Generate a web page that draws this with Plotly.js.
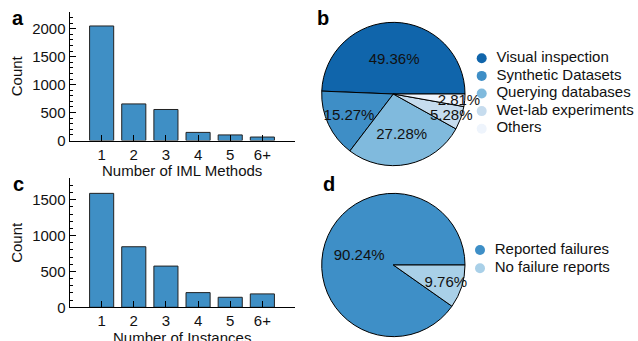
<!DOCTYPE html>
<html><head><meta charset="utf-8">
<script src="https://cdn.plot.ly/plotly-3.0.1.min.js"></script>
<style>html,body{margin:0;padding:0;background:#fff;overflow:hidden;}#chart{width:638px;height:341px;}</style>
</head><body><div id="chart"></div>
<script>
// ---- data ----
const catLabels = ['1', '2', '3', '4', '5', '6+'];
const imlMethodCounts = [2050, 655, 555, 145, 100, 62];
const instanceCounts = [1590, 845, 575, 205, 140, 187];
const validationLabels = ['Visual inspection', 'Synthetic Datasets', 'Querying databases', 'Wet-lab experiments', 'Others'];
const validationShares = [49.36, 15.27, 27.28, 5.28, 2.81];
const failureLabels = ['Reported failures', 'No failure reports'];
const failureShares = [90.24, 9.76];

// ---- styles ----
const validationColors = ['#1065ab', '#3e8ec6', '#80badd', '#c6dcee', '#eef4fc'];
const failureColors = ['#3e8fc7', '#a9d0e8'];
const barColor = '#3f8fc5';
const W = 638, H = 341;
const px = v => v / W;
const py = v => 1 - v / H;
const FONT = 'Liberation Sans, Arial, Helvetica, sans-serif';

const traces = [];
traces.push({type: 'bar', x: catLabels, y: imlMethodCounts, xaxis: 'x', yaxis: 'y',
  marker: {color: barColor, line: {color: '#222', width: 1}}, showlegend: false});
traces.push({type: 'bar', x: catLabels, y: instanceCounts, xaxis: 'x2', yaxis: 'y2',
  marker: {color: barColor, line: {color: '#222', width: 1}}, showlegend: false});

// slices run counter-clockwise with the first one starting at 3 o'clock
function startRotation(values) {
  const total = values.reduce((a, b) => a + b, 0);
  let r = 90 - 360 * values[0] / total;
  if (r < -360) r += 360;
  return r;
}
const pieBase = {type: 'pie', sort: false, direction: 'counterclockwise',
  texttemplate: '%{value:.2f}%', textposition: 'inside', insidetextorientation: 'horizontal',
  insidetextfont: {color: '#111', size: 15, family: FONT}, showlegend: false};
traces.push(Object.assign({}, pieBase, {labels: validationLabels, values: validationShares,
  rotation: startRotation(validationShares),
  domain: {x: [px(321.7), px(465)], y: [py(165.7), py(22.3)]},
  marker: {colors: validationColors, line: {color: '#000', width: 1}}}));
traces.push(Object.assign({}, pieBase, {labels: failureLabels, values: failureShares,
  rotation: startRotation(failureShares),
  domain: {x: [px(321.7), px(465)], y: [py(336.7), py(193.3)]},
  marker: {colors: failureColors, line: {color: '#000', width: 1}}}));

// legend keys: one row per category (row index = position in the category list)
function keyTrace(labels, colors, xa, ya) {
  return {type: 'scatter', mode: 'markers+text', x: labels.map(() => 0), y: labels.map((_, i) => i),
    text: labels.map(l => '\u2002' + l), textposition: 'middle right', textfont: {size: 15, color: '#111', family: FONT},
    marker: {color: colors, size: 10, symbol: 'circle'}, xaxis: xa, yaxis: ya, showlegend: false, cliponaxis: false};
}
traces.push(keyTrace(validationLabels, validationColors, 'x3', 'y3'));
traces.push(keyTrace(failureLabels, failureColors, 'x4', 'y4'));

const xBase = {type: 'category', range: [-1, 6], showline: true, linecolor: '#000', linewidth: 1,
  ticks: 'inside', ticklen: 6, tickcolor: '#000', tickfont: {size: 15, color: '#111'}, showgrid: false, zeroline: false, fixedrange: true};
const yBase = {showline: true, linecolor: '#000', linewidth: 1, ticks: 'inside', ticklen: 6, tickcolor: '#000',
  dtick: 500, tickfont: {size: 15, color: '#111'}, showgrid: false, zeroline: false,
  minor: {ticks: 'inside', ticklen: 3, dtick: 100, tickcolor: '#000', showgrid: false}, fixedrange: true};
const keyAxis = {visible: false, fixedrange: true};

const annText = [
  {text: '<b>a</b>', x: 18, y: 18, size: 20},
  {text: '<b>b</b>', x: 323, y: 18, size: 20},
  {text: '<b>c</b>', x: 18, y: 184, size: 20},
  {text: '<b>d</b>', x: 329.5, y: 184, size: 20},
  {text: 'Number of IML Methods', x: 182, y: 170, size: 15},
  {text: 'Number of Instances', x: 182, y: 337.5, size: 15}
];

const layout = {
  width: W, height: H, margin: {l: 0, r: 0, t: 0, b: 0}, paper_bgcolor: '#fff', plot_bgcolor: 'rgba(0,0,0,0)',
  font: {family: FONT, size: 15, color: '#111'}, bargap: 0.25, showlegend: false,
  uniformtext: {minsize: 15, mode: 'show'},
  xaxis: Object.assign({}, xBase, {domain: [px(69.5), px(294.5)], anchor: 'y'}),
  yaxis: Object.assign({}, yBase, {domain: [py(140.5), py(12)], anchor: 'x', range: [0, 2300], title: {text: 'Count', font: {size: 15}, standoff: 5}}),
  xaxis2: Object.assign({}, xBase, {domain: [px(69.5), px(294.5)], anchor: 'y2'}),
  yaxis2: Object.assign({}, yBase, {domain: [py(307.3), py(178.3)], anchor: 'x2', range: [0, 1800], title: {text: 'Count', font: {size: 15}, standoff: 5}}),
  xaxis3: Object.assign({}, keyAxis, {domain: [px(481.7), px(637)], range: [0, 1], anchor: 'y3'}),
  yaxis3: Object.assign({}, keyAxis, {domain: [py(137.5), py(49.5)], range: [4.5, -0.5], anchor: 'x3'}),
  xaxis4: Object.assign({}, keyAxis, {domain: [px(480), px(637)], range: [0, 1], anchor: 'y4'}),
  yaxis4: Object.assign({}, keyAxis, {domain: [py(277.5), py(240.8)], range: [1.5, -0.5], anchor: 'x4'}),
  annotations: annText.map(a => ({text: a.text, x: px(a.x), y: py(a.y), xref: 'paper', yref: 'paper',
    xanchor: 'center', yanchor: 'middle', showarrow: false, font: {size: a.size, color: a.size === 20 ? '#000' : '#111', family: FONT}}))
};

Plotly.newPlot('chart', traces, layout, {displayModeBar: false, staticPlot: true});
</script>
</body></html>
